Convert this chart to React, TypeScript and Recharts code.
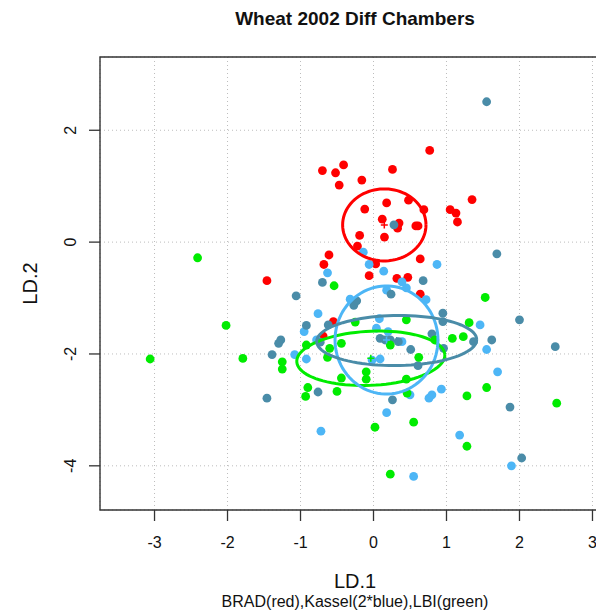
import React from 'react';
import { ScatterChart, Scatter, XAxis, YAxis, CartesianGrid, ReferenceArea } from 'recharts';

// Axis settings
const X_TICKS = [-3, -2, -1, 0, 1, 2, 3];
const Y_TICKS = [-4, -2, 0, 2];
const X_DOMAIN: [number, number] = [-3.747, 3.24];
const Y_DOMAIN: [number, number] = [-4.79, 3.31];

// Discriminant scores (LD.1, LD.2) by location
const bradX = [-0.70, -0.52, -0.41, -0.47, -0.16, 0.26, 0.77, -0.12, 0.18, 0.48, 0.69, 1.05, 1.13, 1.15, 1.35, 0.12, 0.35, 0.33, 0.58, 0.61, 0.15, -0.19, -0.22, -0.61, -0.68, 0.03, 0.64, -0.06, 0.32, 0.47, 0.64, -1.46, -0.55, -0.69];
const bradY = [1.28, 1.24, 1.38, 1.02, 1.11, 1.30, 1.64, 0.59, 0.70, 0.75, 0.58, 0.58, 0.52, 0.36, 0.76, 0.41, 0.34, 0.25, 0.29, 0.29, 0.09, 0.12, -0.07, -0.23, -0.40, -0.39, -0.30, -0.60, -0.65, -0.63, -0.93, -0.69, -1.42, -1.68];

const kasselAX = [-0.14, -0.06, 0.14, 0.87, 0.39, 0.45, 0.72, 0.18, -0.32, -0.63, -0.76, -0.95, -1.08, -0.92, -0.78, 0.08, 0.04, 0.20, 0.39, -0.02, 0.09, 0.50, 0.93, 0.80, 0.76, 0.18, -0.72, 0.55, 1.18, 1.46, 1.55, 1.70, 1.89];
const kasselAY = [-0.18, -0.40, -0.52, -0.40, -0.71, -0.82, -1.03, -0.86, -1.02, -0.55, -1.28, -1.60, -2.01, -2.09, -1.75, -1.37, -1.54, -1.60, -1.78, -2.11, -2.09, -2.73, -2.63, -2.73, -2.79, -3.05, -3.38, -4.19, -3.45, -1.48, -1.92, -2.32, -4.00];

const kasselBX = [0.28, 1.55, 1.69, 0.68, -0.70, -1.06, 0.24, -0.27, -0.23, -0.92, -1.27, -1.30, -1.39, -1.46, -0.76, -0.73, 0.09, 0.16, 0.23, 0.34, 0.51, 0.80, 0.95, 0.95, 0.96, 0.61, 0.26, 1.37, 1.62, 2.00, 2.49, 1.87, 2.03, -0.62];
const kasselBY = [0.31, 2.51, -0.21, -0.69, -0.72, -0.96, -0.93, -1.13, -1.05, -1.49, -1.75, -1.81, -2.01, -2.79, -2.68, -1.79, -1.72, -1.75, -1.75, -1.78, -1.92, -1.64, -1.27, -1.42, -1.90, -2.21, -2.82, -1.78, -1.75, -1.39, -1.87, -2.95, -3.86, -1.48];

const lbiX = [-2.41, -2.02, -3.06, -1.79, -1.25, -1.25, -0.92, -0.90, -0.93, -0.54, -0.60, -0.63, -0.44, -0.50, -0.25, 0.45, 0.23, 0.84, 0.62, -0.10, -0.10, 0.45, 0.46, -0.44, 1.53, 1.31, 1.08, 1.23, 1.55, 1.28, 2.51, 0.02, 0.55, 1.28, 0.23];
const lbiY = [-0.28, -1.49, -2.09, -2.08, -2.14, -2.27, -1.84, -2.60, -2.76, -0.78, -1.90, -2.06, -2.43, -2.67, -1.43, -1.39, -1.84, -1.75, -2.06, -2.32, -2.45, -2.45, -2.70, -1.81, -0.99, -1.44, -1.72, -1.69, -2.60, -2.75, -2.88, -3.31, -3.22, -3.65, -4.15];

const RED = '#ff0000';
const SKY = '#4db6f6';
const STEEL = '#4a8ca8';
const GREEN = '#00ec00';

// Group ellipses: centre, semi-axes (LD units) and rotation (degrees)
const ELLIPSES = [
  { key: 'lbi', cx: -0.037, cy: -2.077, a: 1.016, b: 0.483, rot: 3.9, color: GREEN },
  { key: 'kasselA', cx: 0.178, cy: -1.75, a: 0.705, b: 0.966, rot: 0, color: SKY },
  { key: 'kasselB', cx: 0.318, cy: -1.76, a: 1.096, b: 0.447, rot: 1, color: STEEL },
  { key: 'brad', cx: 0.148, cy: 0.308, a: 0.571, b: 0.644, rot: 0, color: RED },
];

const zip = (xs: number[], ys: number[]) => xs.map((x, i) => ({ x, y: ys[i] }));

const outline = (e: typeof ELLIPSES[number]) => {
  const th = (e.rot * Math.PI) / 180;
  const pts: { x: number; y: number }[] = [];
  const n = 90;
  for (let i = 0; i <= n; i++) {
    const t = (2 * Math.PI * i) / n;
    const u = e.a * Math.cos(t);
    const v = e.b * Math.sin(t);
    pts.push({ x: e.cx + u * Math.cos(th) - v * Math.sin(th), y: e.cy + u * Math.sin(th) + v * Math.cos(th) });
  }
  return pts;
};

const dot = (color: string) => (props: any) =>
  <circle cx={props.cx} cy={props.cy} r={4.4} fill={color} />;

const cross = (color: string) => (props: any) =>
  <path d={`M${props.cx - 3.5},${props.cy}h7M${props.cx},${props.cy - 3.5}v7`} stroke={color} strokeWidth={1.5} />;

const empty = () => <g />;

const FONT = '"Liberation Sans", Arial, Helvetica, sans-serif';

const XTick = (props: any) => (
  <text x={props.x} y={props.y + 27} textAnchor="middle" fontSize={16} fontFamily={FONT} fill="#111">
    {props.payload.value}
  </text>
);

const YTick = (props: any) => (
  <text
    transform={`translate(${props.x - 19},${props.y}) rotate(-90)`}
    textAnchor="middle"
    dy="0.36em"
    fontSize={16}
    fontFamily={FONT}
    fill="#111"
  >
    {props.payload.value}
  </text>
);

export default function App() {
  const groups = [
    { key: 'brad', data: zip(bradX, bradY), color: RED },
    { key: 'kasselA', data: zip(kasselAX, kasselAY), color: SKY },
    { key: 'kasselB', data: zip(kasselBX, kasselBY), color: STEEL },
    { key: 'lbi', data: zip(lbiX, lbiY), color: GREEN },
  ];

  return (
    <div style={{ position: 'absolute', left: 0, top: 0, width: 596, height: 612, overflow: 'hidden', background: '#fff' }}>
      <div style={{ position: 'relative', width: 612, height: 612 }}>
        <ScatterChart width={612} height={612} margin={{ top: 57, right: 2, bottom: 0, left: 0 }}>
          <CartesianGrid stroke="#bdbdbd" strokeDasharray="1 3" />
          <XAxis
            type="number"
            dataKey="x"
            domain={X_DOMAIN}
            ticks={X_TICKS}
            allowDataOverflow
            height={102}
            axisLine={false}
            tickSize={11}
            tickMargin={0}
            tickLine={{ stroke: '#333', strokeWidth: 1.3 }}
            tick={<XTick />}
          />
          <YAxis
            type="number"
            dataKey="y"
            domain={Y_DOMAIN}
            ticks={Y_TICKS}
            allowDataOverflow
            width={100}
            axisLine={false}
            tickSize={11}
            tickMargin={0}
            tickLine={{ stroke: '#333', strokeWidth: 1.3 }}
            tick={<YTick />}
          />
          <ReferenceArea
            x1={X_DOMAIN[0]}
            x2={X_DOMAIN[1]}
            y1={Y_DOMAIN[0]}
            y2={Y_DOMAIN[1]}
            fill="none"
            fillOpacity={0}
            stroke="#333"
            strokeWidth={1.4}
            ifOverflow="visible"
          />
          {groups.map((g) => (
            <Scatter key={g.key} data={g.data} shape={dot(g.color)} isAnimationActive={false} />
          ))}
          {ELLIPSES.map((e) => (
            <Scatter
              key={`ell-${e.key}`}
              data={outline(e)}
              shape={empty}
              line={{ stroke: e.color, strokeWidth: 3, fill: 'none' }}
              isAnimationActive={false}
            />
          ))}
          {ELLIPSES.map((e) => (
            <Scatter
              key={`ctr-${e.key}`}
              data={[{ x: e.cx, y: e.cy }]}
              shape={cross(e.color)}
              isAnimationActive={false}
            />
          ))}
        </ScatterChart>
        <svg width={612} height={612} style={{ position: 'absolute', left: 0, top: 0, pointerEvents: 'none' }}>
          <text x={355} y={25} textAnchor="middle" fontSize={19} fontWeight="bold" fontFamily={FONT} fill="#111">
            Wheat 2002 Diff Chambers
          </text>
          <text x={355} y={588} textAnchor="middle" fontSize={20} fontFamily={FONT} fill="#111">
            LD.1
          </text>
          <text x={355} y={607} textAnchor="middle" fontSize={16} fontFamily={FONT} fill="#111">
            BRAD(red),Kassel(2*blue),LBI(green)
          </text>
          <text transform="translate(30,283.5) rotate(-90)" textAnchor="middle" dy="0.36em" fontSize={20} fontFamily={FONT} fill="#111">
            LD.2
          </text>
        </svg>
      </div>
    </div>
  );
}
